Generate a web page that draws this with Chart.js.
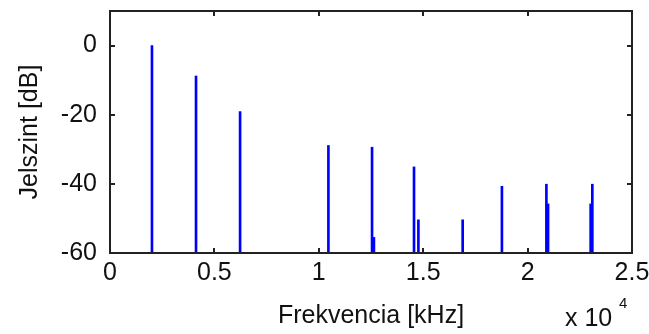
<!DOCTYPE html>
<html>
<head>
<meta charset="utf-8">
<script src="https://cdn.jsdelivr.net/npm/chart.js@4.4.1/dist/chart.umd.min.js"></script>
<style>
  html, body { margin: 0; padding: 0; background: #fff; }
  #wrap { width: 649px; height: 334px; position: relative; }
</style>
</head>
<body>
<div id="wrap"><canvas id="spectrum"></canvas></div>
<script>
// ====================== DATA ======================
// frequency in units of 10^4 Hz, level in dB
const FREQS  = [0.201, 0.412, 0.623, 1.046, 1.255, 1.264, 1.456, 1.477, 1.689, 1.877, 2.090, 2.098, 2.302, 2.310];
const LEVELS = [0, -8.8, -19.1, -28.9, -29.4, -55.5, -35.1, -50.4, -50.4, -40.7, -40.1, -45.8, -45.8, -40.1];

const X_TICKS = [0, 0.5, 1, 1.5, 2, 2.5];
const Y_TICKS = [-60, -40, -20, 0];
const Y_MIN = -60;
const Y_MAX = 10;

const FONT = { family: '"Liberation Sans", Arial, sans-serif', size: 25 };
const TEXT = '#111';

// MATLAB-like box with inward ticks + the "x 10^4" exponent label
const boxPlugin = {
    id: 'matlabBox',
    afterDraw(chart) {
        const { ctx, chartArea: a, scales } = chart;
        const t = 5;
        ctx.save();
        ctx.strokeStyle = '#222';
        ctx.lineWidth = 2;
        ctx.strokeRect(a.left, a.top, a.right - a.left, a.bottom - a.top);
        ctx.beginPath();
        X_TICKS.forEach(v => {
            const px = Math.round(scales.x.getPixelForValue(v));
            ctx.moveTo(px, a.bottom); ctx.lineTo(px, a.bottom - t);
            ctx.moveTo(px, a.top);    ctx.lineTo(px, a.top + t);
        });
        Y_TICKS.forEach(v => {
            const py = Math.round(scales.y.getPixelForValue(v));
            ctx.moveTo(a.left, py);  ctx.lineTo(a.left + t, py);
            ctx.moveTo(a.right, py); ctx.lineTo(a.right - t, py);
        });
        ctx.stroke();

        ctx.fillStyle = TEXT;
        ctx.textBaseline = 'middle';
        ctx.textAlign = 'left';
        ctx.font = `${FONT.size}px ${FONT.family}`;
        ctx.fillText('x 10', a.right - 67, 319);
        ctx.font = `15px ${FONT.family}`;
        ctx.fillText('4', a.right - 13, 304);
        ctx.restore();
    }
};

const ctx = document.getElementById('spectrum').getContext('2d');

new Chart(ctx, {
    type: 'bar',
    data: {
        datasets: [{
            data: FREQS.map((f, i) => ({ x: f, y: [Y_MIN, LEVELS[i]] })),
            backgroundColor: '#0000ff',
            borderWidth: 0,
            barThickness: 2,
            grouped: false
        }]
    },
    options: {
        responsive: true,
        maintainAspectRatio: false,
        animation: false,
        layout: { padding: { top: 11, right: 17, left: 0, bottom: 0 } },
        plugins: { legend: { display: false }, tooltip: { enabled: false } },
        scales: {
            x: {
                type: 'linear',
                offset: false,
                min: 0,
                max: 2.5,
                afterBuildTicks: s => { s.ticks = X_TICKS.map(v => ({ value: v })); },
                afterFit: s => { s.height = 81; s.paddingLeft = 0; s.paddingRight = 0; },
                grid: { display: false, drawTicks: false, offset: false },
                border: { display: false },
                ticks: { padding: 5, color: TEXT, font: FONT, maxRotation: 0, callback: v => String(v) },
                title: { display: true, text: 'Frekvencia [kHz]', color: TEXT, font: FONT, padding: { bottom: 3, top: 0 } }
            },
            y: {
                min: Y_MIN,
                max: Y_MAX,
                afterBuildTicks: s => { s.ticks = Y_TICKS.map(v => ({ value: v })); },
                afterFit: s => { s.width = 110; s.paddingTop = 0; s.paddingBottom = 0; },
                grid: { display: false, drawTicks: false },
                border: { display: false },
                ticks: { padding: 13, color: TEXT, font: FONT, callback: v => String(v) },
                title: { display: true, text: 'Jelszint [dB]', color: TEXT, font: FONT, padding: { top: 15, bottom: 0 } }
            }
        }
    },
    plugins: [boxPlugin]
});
</script>
</body>
</html>
